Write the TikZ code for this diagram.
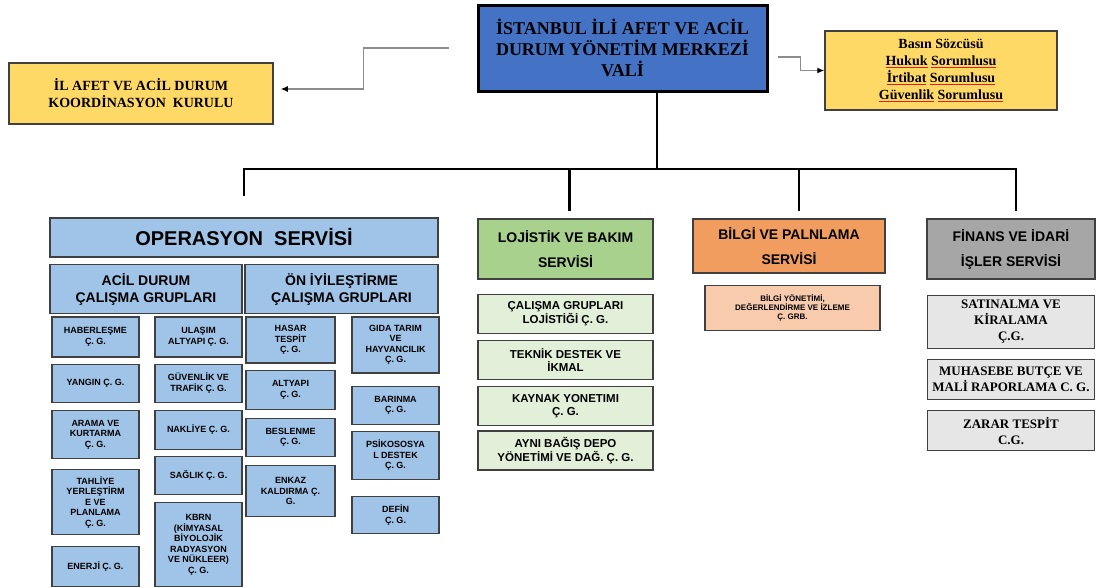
\documentclass[tikz,border=0pt]{standalone}
\usepackage{fontspec}
\setmainfont{Liberation Serif}
\setsansfont{Liberation Sans}
\usepackage{tikz}
\usetikzlibrary{arrows.meta,positioning}
\definecolor{valiblue}{RGB}{68,114,196}
\definecolor{notegold}{RGB}{255,217,102}
\definecolor{opsblue}{RGB}{160,196,232}
\definecolor{loggreen}{RGB}{169,209,142}
\definecolor{logpale}{RGB}{226,240,217}
\definecolor{infoorange}{RGB}{241,157,95}
\definecolor{infopale}{RGB}{248,203,173}
\definecolor{fingray}{RGB}{166,166,166}
\definecolor{finpale}{RGB}{231,230,230}
\definecolor{edge}{RGB}{64,64,64}
\definecolor{feedgray}{RGB}{140,140,140}
\definecolor{spellred}{RGB}{225,30,30}
\newsavebox{\ulbox}
\newcommand{\redul}[1]{\sbox{\ulbox}{#1}\rlap{\textcolor{spellred}{\rule[-3.2pt]{\wd\ulbox}{1pt}}}\usebox{\ulbox}}

\begin{document}
\begin{tikzpicture}[
x=1pt,y=-1pt,
node distance=6pt,
head/.style={draw=black,line width=3pt,fill=valiblue,align=center,font=\bfseries\fontsize{18}{21}\selectfont,minimum width=289pt,minimum height=86pt},
note/.style={draw=edge,line width=1.5pt,fill=notegold,align=center,font=\bfseries\fontsize{14}{17}\selectfont},
svc/.style={draw=edge,line width=1.6pt,align=center,font=\sffamily\bfseries\fontsize{14}{25}\selectfont},
grp/.style={draw=edge,line width=1.6pt,fill=opsblue,align=center,font=\sffamily\bfseries\fontsize{14}{17}\selectfont,minimum height=49pt},
cg/.style={draw=edge,line width=1.2pt,fill=opsblue,align=center,inner sep=1pt,font=\sffamily\bfseries\fontsize{9}{10.5}\selectfont,minimum width=87pt},
lcg/.style={draw=edge,line width=1.2pt,fill=logpale,align=center,inner sep=1pt,font=\sffamily\bfseries\fontsize{11.5}{12.5}\selectfont,minimum width=175pt,minimum height=39pt},
fcg/.style={draw=edge,line width=1.2pt,fill=finpale,align=center,inner sep=1pt,font=\bfseries\fontsize{13}{16}\selectfont,minimum width=167pt},
tree/.style={line width=2.6pt,black},
feed/.style={line width=1.2pt,feedgray,-{Latex[color=black,length=7pt,width=6pt]}}
]
\path[use as bounding box,fill=white] (0,0) rectangle (1097,587);

% top level
\node[head] (vali) at (622.5,48) {İSTANBUL İLİ AFET VE ACİL\\DURUM YÖNETİM MERKEZİ\\VALİ};
\node[note,minimum width=264pt,minimum height=61pt] (kurul) at (141,93.5) {İL AFET VE ACİL DURUM\\KOORDİNASYON~~KURULU};
\node[note,minimum width=232pt,minimum height=79pt] (basin) at (941,70.5) {Basın Sözcüsü\\\redul{Hukuk} \redul{Sorumlusu}\\\redul{İrtibat} \redul{Sorumlusu}\\\redul{Güvenlik} \redul{Sorumlusu}};

% services
\node[svc,fill=opsblue,minimum width=388pt,minimum height=39pt,font=\sffamily\bfseries\fontsize{20}{24}\selectfont] (ops) at (244,237.5) {OPERASYON~~SERVİSİ};
\node[grp,minimum width=192pt,below right=6pt and 0pt of ops.south west] (acil) {ACİL DURUM\\ÇALIŞMA GRUPLARI};
\node[grp,minimum width=193pt,below left=6pt and 0pt of ops.south east] (oniy) {ÖN İYİLEŞTİRME\\ÇALIŞMA GRUPLARI};
\node[svc,fill=loggreen,minimum width=175pt,minimum height=60pt] (loj) at (565.5,249) {LOJİSTİK VE BAKIM\\SERVİSİ};
\node[svc,fill=infoorange,minimum width=192pt,minimum height=54pt] (bil) at (789,246) {BİLGİ VE PALNLAMA\\SERVİSİ};
\node[svc,fill=fingray,minimum width=168pt,minimum height=60pt] (fin) at (1011,249) {FİNANS VE İDARİ\\İŞLER SERVİSİ};

% acil durum groups
\node[cg,minimum height=40pt] (hab) at (95.5,337) {HABERLEŞME\\Ç. G.};
\node[cg,minimum height=38pt,below=6pt of hab] (yan) {YANGIN Ç. G.};
\node[cg,minimum height=48pt,below=7pt of yan] (ara) {ARAMA VE\\KURTARMA\\Ç. G.};
\node[cg,minimum height=65pt,below=10pt of ara] (tah) {TAHLİYE\\YERLEŞTİRM\\E VE\\PLANLAMA\\Ç. G.};
\node[cg,minimum height=40pt,below=11pt of tah] (ene) {ENERJİ Ç. G.};
\node[cg,minimum height=40pt] (ula) at (198.5,337) {ULAŞIM\\ALTYAPI Ç. G.};
\node[cg,minimum height=38pt,below=6pt of ula] (guv) {GÜVENLİK VE\\TRAFİK Ç. G.};
\node[cg,minimum height=39pt,below=7pt of guv] (nak) {NAKLİYE Ç. G.};
\node[cg,minimum height=38pt,below=6pt of nak] (sag) {SAĞLIK Ç. G.};
\node[cg,minimum height=84pt,below=7pt of sag] (kbrn) {KBRN\\(KİMYASAL\\BİYOLOJİK\\RADYASYON\\VE NÜKLEER)\\Ç. G.};

% on iyilestirme groups
\node[cg,minimum width=89pt,minimum height=46pt] (has) at (290.5,340) {HASAR\\TESPİT\\Ç. G.};
\node[cg,minimum width=89pt,minimum height=39pt,below=6pt of has] (alt) {ALTYAPI\\Ç. G.};
\node[cg,minimum width=89pt,minimum height=38pt,below=8pt of alt] (bes) {BESLENME\\Ç. G.};
\node[cg,minimum width=89pt,minimum height=51pt,below=8pt of bes] (enk) {ENKAZ\\KALDIRMA Ç.\\G.};
\node[cg,minimum height=56pt] (gid) at (395.5,345) {GIDA TARIM\\VE\\HAYVANCILIK\\Ç. G.};
\node[cg,minimum height=38pt,below=12pt of gid] (bar) {BARINMA\\Ç. G.};
\node[cg,minimum height=48pt,below=6pt of bar] (psi) {PSİKOSOSYA\\L DESTEK\\Ç. G.};
\node[cg,minimum height=37pt,below=16pt of psi] (def) {DEFİN\\Ç. G.};

% lojistik groups
\node[lcg,below=14pt of loj] (l1) {ÇALIŞMA GRUPLARI\\LOJİSTİĞİ Ç. G.};
\node[lcg,below=6pt of l1] (l2) {TEKNİK DESTEK VE\\İKMAL};
\node[lcg,below=6pt of l2] (l3) {KAYNAK YONETIMI\\Ç. G.};
\node[lcg,below=4pt of l3] (l4) {AYNI BAĞIŞ DEPO\\YÖNETİMİ VE DAĞ. Ç. G.};

% bilgi group
\node[draw=edge,line width=1.2pt,fill=infopale,align=center,inner sep=1pt,font=\sffamily\bfseries\fontsize{8}{9}\selectfont,minimum width=175pt,minimum height=45pt,below=11pt of bil,xshift=3.5pt] (b1) {BİLGİ YÖNETİMİ,\\DEĞERLENDİRME VE İZLEME\\Ç. GRB.};

% finans groups
\node[fcg,minimum height=53pt,below=15pt of fin] (f1) {SATINALMA VE\\KİRALAMA\\Ç.G.};
\node[fcg,minimum height=40pt,below=10pt of f1] (f2) {MUHASEBE BUTÇE VE\\MALİ RAPORLAMA C. G.};
\node[fcg,minimum height=40pt,below=10pt of f2] (f3) {ZARAR TESPİT\\C.G.};

% connectors
\coordinate (hub) at (657,169);
\draw[tree] (vali.south -| hub) -- (hub);
\draw[tree] (hub) -| ([yshift=21pt]ops.north);
\draw[tree] (hub) -| ([xshift=4pt,yshift=7pt]loj.north);
\draw[tree] (hub) -| ([xshift=10pt,yshift=7pt]bil.north);
\draw[tree] (hub) -| ([xshift=5pt,yshift=7pt]fin.north);
\draw[feed] ([xshift=-28pt]vali.west) -- ++(-85,0) |- ([xshift=7pt,yshift=4.5pt]kurul.east);
\draw[feed] ([shift={(9pt,-9pt)}]vali.east) -- ++(23,0) |- (basin.west);
\end{tikzpicture}
\end{document}
